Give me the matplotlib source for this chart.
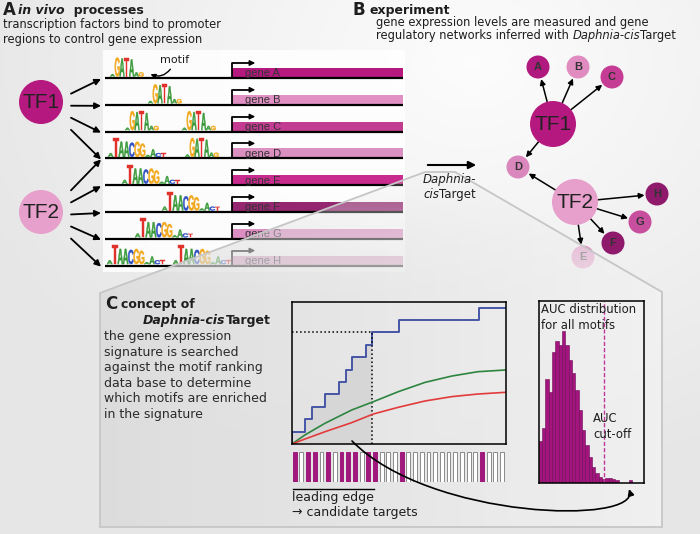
import numpy as np
import matplotlib.pyplot as plt
from matplotlib.patches import Circle, Rectangle, Polygon, PathPatch, FancyArrowPatch
from matplotlib.textpath import TextPath
from matplotlib.font_manager import FontProperties
from matplotlib.transforms import Affine2D
from matplotlib.path import Path

# --- data

genes = ['A', 'B', 'C', 'D', 'E', 'F', 'G', 'H']
tf1_targets = ['A', 'B', 'C', 'D']
tf2_targets = ['D', 'E', 'F', 'G', 'H']
# motif hits on the promoters: (gene, motif, x of the logo)
motif_sites = [('A', 'GATA', 110), ('B', 'GATA', 148), ('C', 'GATA', 125), ('C', 'GATA', 182),
               ('D', 'TAACGG', 108), ('D', 'GATA', 185), ('E', 'TAACGG', 122),
               ('F', 'TAACGG', 162), ('G', 'TAACGG', 135), ('H', 'TAACGG', 107),
               ('H', 'TAACGG', 173)]

# ranked genes of the signature, 1 = gene carries the motif
ranking_hits = [1, 0, 1, 1, 0, 1, 0, 1, 1, 1, 0, 1, 1, 0, 0, 0,
                1, 0, 0, 0, 0, 0, 0, 0, 0, 0, 0, 0, 1, 0, 0, 0]
leading_edge = 12

# background recovery curves (rank, recovered genes)
rand_rank = [0, 1.94, 4.93, 8.92, 12.16, 15.9, 19.9, 23.9, 27.8, 32]
rand_upper = [0, 0.73, 1.67, 2.74, 3.41, 4.22, 4.97, 5.48, 5.83, 5.97]
rand_mean = [0, 0.40, 0.99, 1.72, 2.42, 2.96, 3.47, 3.82, 4.03, 4.17]

# AUC distribution over all motifs
auc_counts = [42, 55, 104, 91, 131, 142, 138, 152, 138, 123, 110, 93, 73, 53, 38, 26,
              16, 10, 6, 4, 5, 5, 4, 3, 0, 0, 0, 3, 0, 0, 0]
auc_cutoff = 19.6

# --- layout / style

W, H = 700, 534
gene_colors = ['#b5197f', '#e090c3', '#c23d92', '#dc90c2', '#c92a8d', '#94276f',
               '#dc8ec3', '#d9a0c4']
node_xy = {'TF1': (553, 124), 'TF2': (575, 202), 'A': (538, 67), 'B': (578, 67),
           'C': (612, 77), 'D': (518, 167), 'E': (583, 257), 'F': (613, 243),
           'G': (640, 222), 'H': (657, 194)}
node_col = {'TF1': '#b5197f', 'TF2': '#e6a0cb', 'A': '#b0197e', 'B': '#e08cc0',
            'C': '#c43c93', 'D': '#d987bc', 'E': '#e08cc0', 'F': '#8f1a6b',
            'G': '#c84e9e', 'H': '#8f1a6b'}
green, red, blue, orange = '#3a9a3a', '#e0312b', '#2f4fc4', '#f2a81d'
LOGOS = {
    'GATA': (4.8, [('A', green, 0.12), ('G', orange, 1.0), ('A', green, 0.95),
                   ('T', red, 1.0), ('A', green, 0.9), ('A', green, 0.22),
                   ('G', orange, 0.22)]),
    'TAACGG': (5.3, [('A', green, 0.2), ('T', red, 1.0), ('A', green, 0.8),
                     ('A', green, 0.8), ('C', blue, 0.75), ('G', orange, 0.8),
                     ('G', orange, 0.7), ('A', green, 0.1), ('A', green, 0.4),
                     ('C', blue, 0.2), ('T', red, 0.2)]),
}
TXT = '#1e1e1e'

fig = plt.figure(figsize=(7, 5.34), dpi=100)
ax = fig.add_axes([0, 0, 1, 1])
renderer = fig.canvas.get_renderer()


def row_y(g):
    return 78 + 26.8 * genes.index(g)


def rich(x, y, parts, size, z=7):
    # consecutive text pieces with their own weight / style
    for s, weight, style in parts:
        t = ax.text(x, y, s, fontsize=size, fontweight=weight, fontstyle=style,
                    va='baseline', ha='left', color=TXT, zorder=z)
        x += t.get_window_extent(renderer).width


# background
yy, xx = np.mgrid[0:H:4, 0:W:4]
bg = 0.99 - 0.085 * np.clip(np.hypot((xx - 470) / 520, (yy - 60) / 420), 0, 1)
ax.imshow(np.dstack([bg, bg, bg]), extent=[0, W, H, 0], origin='upper', aspect='auto',
          zorder=0, interpolation='bilinear')
ax.add_patch(Rectangle((103, 50), 302, 222, fc='white', ec='none', alpha=0.85, zorder=0.5))

# --- A: promoters and genes
fp_logo = FontProperties(family='Liberation Sans', weight='bold')


def draw_logo(x, base, motif):
    w, spec = LOGOS[motif]
    for ch, col, rel in spec:
        tp = TextPath((0, 0), ch, size=10, prop=fp_logo)
        bb = tp.get_extents()
        tr = Affine2D().translate(-bb.x0, -bb.y0).scale(1.02 * w / bb.width, -19 * rel / bb.height)
        tr = tr.translate(x, base - 1.5)
        ax.add_patch(PathPatch(tr.transform_path(tp), fc=col, ec=col, lw=0.3, zorder=3))
        x += w


for g, col in zip(genes, gene_colors):
    y = row_y(g)
    ax.add_patch(Rectangle((232, y - 10), 171, 10, fc=col, ec='none', zorder=2))
    ax.plot([105, 403], [y, y], color='black', lw=1.6, zorder=3, solid_capstyle='butt')
    ax.plot([232, 232, 250], [y, y - 15, y - 15], color='black', lw=1.3, zorder=3)
    ax.add_patch(FancyArrowPatch((248, y - 15), (258, y - 15), arrowstyle='-|>',
                                 mutation_scale=8, color='black', lw=1, zorder=3))
    ax.text(245, y - 4.5, 'gene ' + g, family='Liberation Sans', fontsize=8,
            color='#333333', va='center', zorder=3)

for g, motif, x in motif_sites:
    draw_logo(x, row_y(g), motif)

ax.text(160, 63, 'motif', fontsize=8, color=TXT, va='baseline')
ax.add_patch(FancyArrowPatch((172, 67), (148, 73), connectionstyle='arc3,rad=-0.45',
                             arrowstyle='-|>', mutation_scale=7, lw=1, color='black'))

tf_pos = {'TF1': (41, 102), 'TF2': (41, 212)}
for tf, targets in (('TF1', tf1_targets), ('TF2', tf2_targets)):
    cx, cy = tf_pos[tf]
    ax.add_patch(Circle((cx, cy), 22, fc=node_col[tf], ec='none', zorder=3))
    ax.text(cx, cy + 1, tf, family='Liberation Sans', fontsize=15, ha='center',
            va='center', color='#222222', zorder=4)
    for g in targets:
        ty = row_y(g) + 1
        sy = cy + 2 + (ty - cy) * 0.45
        ax.add_patch(FancyArrowPatch((71, sy), (101, ty), arrowstyle='-|>', mutation_scale=9,
                                     lw=1.3, color='black', shrinkA=0, shrinkB=0, zorder=3))

rich(3, 15, [('A', 'bold', 'normal')], 12)
rich(18, 14, [('in vivo', 'bold', 'italic'), ('  processes', 'bold', 'normal')], 9)
ax.text(3, 28, 'transcription factors bind to promoter', fontsize=8.3, color=TXT, va='baseline')
ax.text(3, 43, 'regions to control gene expression', fontsize=8.3, color=TXT, va='baseline')

# --- B: inferred network
rich(352, 15, [('B', 'bold', 'normal')], 12)
rich(369, 14, [('experiment', 'bold', 'normal')], 9)
ax.text(376, 26, 'gene expression levels are measured and gene', fontsize=8.3, color=TXT,
        va='baseline')
rich(376, 39.5, [('regulatory networks inferred with ', 'normal', 'normal'),
                 ('Daphnia-cis', 'normal', 'italic'), ('Target', 'normal', 'normal')], 8.3)


def radius(n):
    return 23 if n.startswith('TF') else 11.5


for tf, targets in (('TF1', tf1_targets), ('TF2', tf2_targets)):
    for g in targets:
        (x0, y0), (x1, y1) = node_xy[tf], node_xy[g]
        d = np.hypot(x1 - x0, y1 - y0)
        ux, uy = (x1 - x0) / d, (y1 - y0) / d
        ax.add_patch(FancyArrowPatch((x0 + ux * radius(tf), y0 + uy * radius(tf)),
                                     (x1 - ux * (radius(g) + 1), y1 - uy * (radius(g) + 1)),
                                     arrowstyle='-|>', mutation_scale=8, lw=1.1,
                                     color='black', shrinkA=0, shrinkB=0, zorder=3))
for n, (x, y) in node_xy.items():
    ax.add_patch(Circle((x, y), radius(n), fc=node_col[n], ec='none', zorder=4))
    if n.startswith('TF'):
        ax.text(x, y + 1, n, family='Liberation Sans', fontsize=15, ha='center', va='center',
                color='#222222', zorder=4)
    else:
        ax.text(x, y, n, family='Liberation Sans', fontsize=8, fontweight='bold', ha='center',
                va='center', color='#333333', zorder=4)

ax.add_patch(FancyArrowPatch((425, 165), (479, 165), arrowstyle='-|>', mutation_scale=11,
                             lw=1.5, color='black', zorder=4))
rich(423, 183, [('Daphnia-', 'normal', 'italic')], 8.5)
rich(423, 198, [('cis', 'normal', 'italic'), ('Target', 'normal', 'normal')], 8.5)

# --- C: zoom cone and box
gx = np.linspace(0, 1, 300)
gy = np.linspace(172, 527, 200)
shade = 0.86 + 0.09 * gx
alpha = np.clip(0.15 + 0.65 * (gy - 172) / 118, 0, 0.85)
rgba = np.zeros((len(gy), len(gx), 4))
rgba[..., :3] = shade[None, :, None]
rgba[..., 3] = alpha[:, None]
im = ax.imshow(rgba, extent=[100, 662, 527, 172], origin='upper', aspect='auto', zorder=5,
               interpolation='bilinear')
box = Polygon([(100, 293), (425, 172), (455, 172), (662, 292), (662, 527), (100, 527)],
              closed=True, fc='none', ec='#c6c6c6', lw=1.3, zorder=5.5)
ax.add_patch(box)
im.set_clip_path(box)

rich(105, 309, [('C', 'bold', 'normal')], 12)
rich(121, 308, [('concept of', 'bold', 'normal')], 9)
rich(143, 324, [('Daphnia-cis', 'bold', 'italic'), ('Target', 'bold', 'normal')], 9)
para = ['the gene expression', 'signature is searched', 'against the motif ranking',
        'data base to determine', 'which motifs are enriched', 'in the signature']
for i, line in enumerate(para):
    ax.text(104, 340 + 15.6 * i, line, fontsize=9, color='#2a2a2a', va='baseline', zorder=7)

# recovery curve
ax_s = fig.add_axes([292 / W, 1 - 444 / H, 214 / W, 142 / H])
ax_s.set_facecolor('none')
cum = np.cumsum(ranking_hits)
step_x = np.concatenate([[0], np.arange(len(ranking_hits) + 1)])
step_y = np.concatenate([[0], cum, [cum[-1]]])
ax_s.fill_between(step_x[:leading_edge + 2], step_y[:leading_edge + 2], step='post',
                  color='#d6d6d6', lw=0)
ax_s.step(step_x, step_y, where='post', color='#4656a6', lw=1.4)
ax_s.plot([0, leading_edge], [cum[leading_edge]] * 2, ls=':', color='black', lw=1.1)
ax_s.plot([leading_edge] * 2, [0, cum[leading_edge]], ls=':', color='black', lw=1.1)
ax_s.plot(rand_rank, rand_upper, color='#2e8540', lw=1.2)
ax_s.plot(rand_rank, rand_mean, color='#e23b3b', lw=1.2)
ax_s.set_xlim(0, 32)
ax_s.set_ylim(0, 11.45)
ax_s.set_xticks([])
ax_s.set_yticks([])
for sp in ax_s.spines.values():
    sp.set_linewidth(1.1)

# barcode of the ranking
ax_b = fig.add_axes([292 / W, 1 - 482 / H, 214 / W, 30 / H])
ax_b.bar(np.arange(len(ranking_hits)) + 0.12, 1, width=0.58, align='edge',
         color=['#a0197c' if h else 'white' for h in ranking_hits],
         edgecolor=['#a0197c' if h else '#8a8a8a' for h in ranking_hits], lw=0.7)
ax_b.set_xlim(0, 32)
ax_b.set_ylim(0, 1)
ax_b.axis('off')

# AUC histogram
ax_h = fig.add_axes([538.7 / W, 1 - 483 / H, 105.3 / W, 182 / H])
ax_h.set_facecolor('none')
ax_h.bar(np.arange(len(auc_counts)), auc_counts, width=1, align='edge', color='#a3147e',
         edgecolor='#6d0c54', lw=0.4)
ax_h.axvline(auc_cutoff, ls=(0, (3, 1.5)), color='#c2379b', lw=1)
ax_h.set_xlim(0, 31.6)
ax_h.set_ylim(0, 182)
ax_h.set_xticks([])
ax_h.set_yticks([])
for sp in ax_h.spines.values():
    sp.set_linewidth(1.1)

for s, x, y in (('AUC distribution', 541, 313), ('for all motifs', 541, 329),
                ('AUC', 593, 422), ('cut-off', 593, 438)):
    ax_h.text(x, y, s, fontsize=8.35, color=TXT, va='baseline', transform=ax.transData)

ax.text(333, 437, 'AUC', fontsize=9, color=TXT, va='baseline', zorder=7)
ax.plot([293, 374], [489, 489], color='black', lw=1, zorder=7)
ax.text(292, 501, 'leading edge', fontsize=9, color=TXT, va='baseline', zorder=7)
ax.text(292, 516, '\u2192 candidate targets', fontsize=9, color=TXT, va='baseline', zorder=7)

auc_link = Path([(352, 441), (430, 520), (640, 525), (629, 489)],
                [Path.MOVETO, Path.CURVE4, Path.CURVE4, Path.CURVE4])
fig.add_artist(FancyArrowPatch(path=auc_link, arrowstyle='-|>', mutation_scale=9, lw=1.2,
                               color='black', transform=ax.transData))

ax.set_xlim(0, W)
ax.set_ylim(H, 0)
ax.axis('off')

fig.savefig('out.png', dpi=100)
